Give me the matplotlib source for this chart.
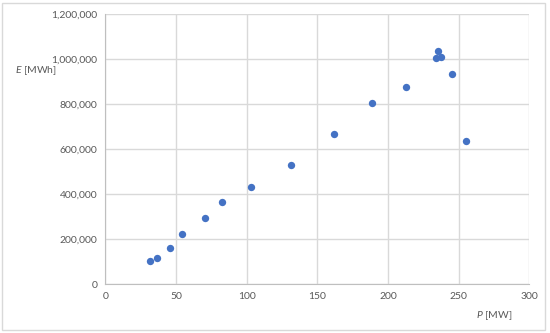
import matplotlib.pyplot as plt
from matplotlib.ticker import FuncFormatter
from matplotlib.patches import Rectangle

# Data
P = [31.5, 36.4, 45.4, 54.4, 70.6, 82.7, 103.2, 131.1, 161.9, 188.4,
     212.4, 235.3, 233.7, 237.7, 245.2, 255.4]
E = [104000, 117000, 161000, 221000, 295000, 363000, 431000, 530000, 665000, 803000,
     876000, 1035000, 1006000, 1010000, 933000, 636000]

xticks = [0, 50, 100, 150, 200, 250, 300]
yticks = [0, 200000, 400000, 600000, 800000, 1000000, 1200000]

plt.rcParams['font.family'] = ['Lato', 'DejaVu Sans']
plt.rcParams['mathtext.fontset'] = 'custom'
plt.rcParams['mathtext.it'] = 'Lato:italic'
plt.rcParams['mathtext.rm'] = 'Lato'
grid_col = '#d9d9d9'
text_col = '#595959'

fig = plt.figure(figsize=(5.5, 3.33), dpi=100)
fig.patches.append(Rectangle((2 / 550, 3 / 333), 543 / 550, 327 / 333, transform=fig.transFigure,
                             fill=False, edgecolor=grid_col, linewidth=1))

ax = fig.add_axes([0.1918, 0.1471, 0.7706, 0.8109])
ax.scatter(P, E, s=28, color='#4472C4', zorder=3, linewidths=0)

ax.set_xlim(0, 300)
ax.set_ylim(0, 1200000)
ax.set_xticks(xticks)
ax.set_yticks(yticks)
ax.yaxis.set_major_formatter(FuncFormatter(lambda v, p: f"{int(v):,}"))
ax.grid(True, color=grid_col, linewidth=1)
ax.set_axisbelow(True)
for s in ax.spines.values():
    s.set_visible(False)
ax.spines['left'].set_visible(True)
ax.spines['bottom'].set_visible(True)
ax.spines['left'].set_color('#bfbfbf')
ax.spines['bottom'].set_color('#bfbfbf')
ax.tick_params(length=0, labelsize=7.5, labelcolor=text_col, pad=6)

fig.text(36 / 550, 1 - 71 / 333, r"$\it{E}$ [MWh]", fontsize=7.5, color=text_col, ha='center', va='center')
fig.text(494 / 550, 1 - 316 / 333, r"$\it{P}$ [MW]", fontsize=7.5, color=text_col, ha='center', va='center')

fig.savefig('out.png', dpi=100)
